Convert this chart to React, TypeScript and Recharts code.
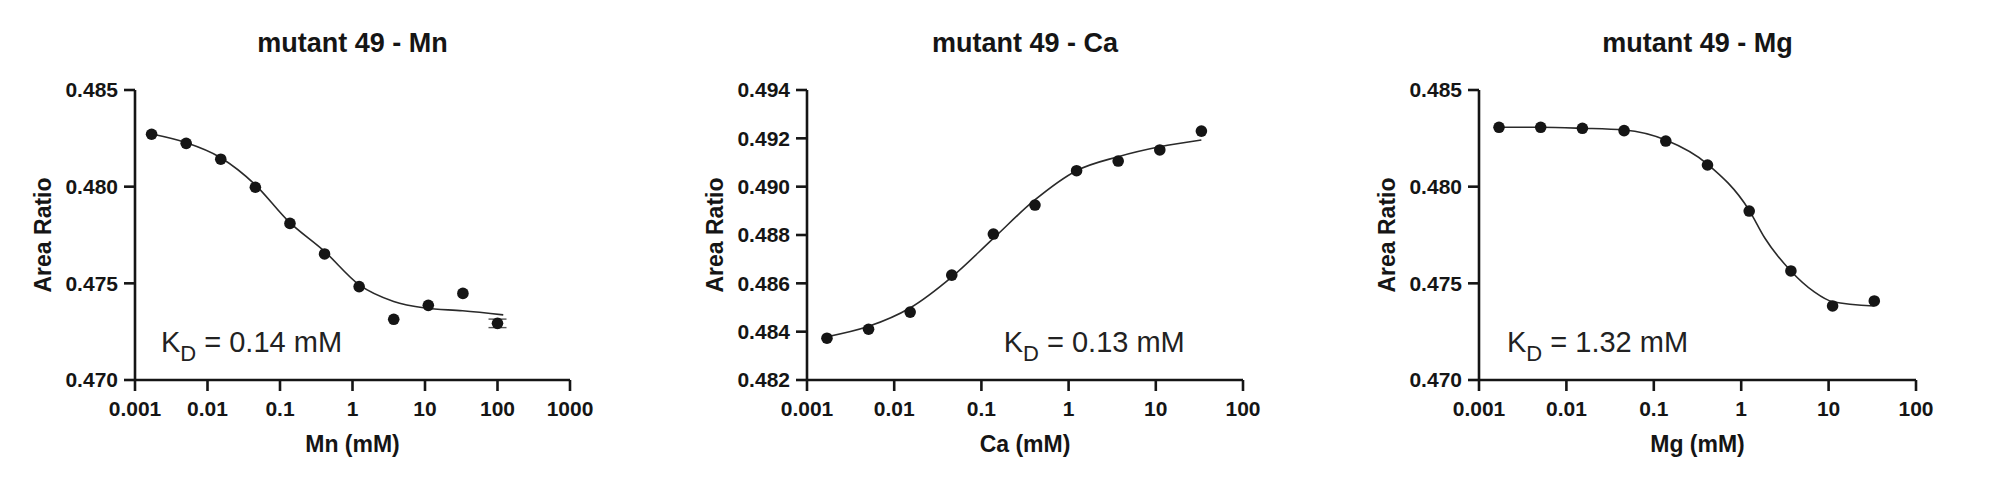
import React from "react";
import {
  ComposedChart,
  Line,
  Scatter,
  XAxis,
  YAxis,
  ErrorBar,
  ReferenceDot,
} from "recharts";

// 3-fold dilution series (mM)
const dilutionConc = [0.001694, 0.00508, 0.01524, 0.04572, 0.1372, 0.4115, 1.235, 3.704, 11.11, 33.33];

// Mn
const mnConc = [...dilutionConc, 100];
const mnRatio = [0.48271, 0.48224, 0.48142, 0.47997, 0.4781, 0.47652, 0.47483, 0.47314, 0.47386, 0.47448, 0.47293];
const mnError = [0, 0, 0, 0, 0, 0, 0, 0, 0, 0, 0.00022];
const mnFitConc = [0.0017, 0.005, 0.015, 0.045, 0.13, 0.41, 1.23, 3.7, 10, 33, 120];
const mnFitRatio = [0.48272, 0.48228, 0.48151, 0.48012, 0.47822, 0.47666, 0.47493, 0.47406, 0.47372, 0.47358, 0.47337];

// Ca
const caConc = dilutionConc;
const caRatio = [0.48373, 0.4841, 0.48481, 0.48634, 0.48804, 0.48924, 0.49066, 0.49106, 0.49152, 0.4923];
const caFitConc = [0.0017, 0.005, 0.015, 0.046, 0.137, 0.41, 1.23, 3.7, 11.1, 33.3];
const caFitRatio = [0.48379, 0.48421, 0.48497, 0.48627, 0.48786, 0.48945, 0.49066, 0.49124, 0.49165, 0.49193];

// Mg
const mgConc = dilutionConc;
const mgRatio = [0.48307, 0.48307, 0.48302, 0.4829, 0.48236, 0.48112, 0.47874, 0.47564, 0.47383, 0.47409];
const mgFitConc = [0.0017, 0.005, 0.015, 0.046, 0.137, 0.41, 1.23, 1.87, 3.7, 6.8, 11.1, 33.3];
const mgFitRatio = [0.48307, 0.48307, 0.48302, 0.48293, 0.48241, 0.48117, 0.47879, 0.47733, 0.47564, 0.47457, 0.47405, 0.47383];

// ticks
const xTicksWide = [0.001, 0.01, 0.1, 1, 10, 100, 1000];
const xTicks = [0.001, 0.01, 0.1, 1, 10, 100];
const yTicksLow = [0.47, 0.475, 0.48, 0.485];
const yTicksCa = [0.482, 0.484, 0.486, 0.488, 0.49, 0.492, 0.494];

const FONT = '"Liberation Sans", Arial, Helvetica, sans-serif';
const INK = "#151515";
const PLOT_TOP = 90;
const PLOT_BOTTOM = 380;
const HEIGHT = 491;
const Y_AXIS_W = 80;
const X_AXIS_H = 80;

const toPoints = (xs: number[], ys: number[], errs?: number[]) =>
  xs.map((x, i) => ({ x, y: ys[i], err: errs ? errs[i] : 0 }));

const Dot = (p: any) => <circle cx={p.cx} cy={p.cy} r={5.8} fill={INK} />;

interface PanelProps {
  title: string;
  xLabel: string;
  points: { x: number; y: number; err: number }[];
  fit: { x: number; y: number }[];
  xTicks: number[];
  yTicks: number[];
  left: number;
  width: number;
  plotLeft: number;
  plotRight: number;
  kd: string;
  kdAt: [number, number];
  hasError?: boolean;
}

const Panel = (props: PanelProps) => {
  const { title, xLabel, points, fit, xTicks, yTicks, left, width, plotLeft, plotRight, kd, kdAt } = props;
  const mLeft = plotLeft - left - Y_AXIS_W;
  const mRight = left + width - plotRight;
  const plotW = plotRight - plotLeft;
  const cx = plotLeft - left + plotW / 2;
  const tickStyle = { fontSize: 21, fontWeight: 700, fill: INK, fontFamily: FONT };

  return (
    <div style={{ position: "absolute", left, top: 0, width, height: HEIGHT }}>
      <div
        style={{
          position: "absolute",
          left: plotLeft - left,
          width: plotW,
          top: 30,
          textAlign: "center",
          fontFamily: FONT,
          fontWeight: 700,
          fontSize: 27,
          lineHeight: "27px",
          color: INK,
          whiteSpace: "nowrap",
        }}
      >
        {title}
      </div>
      <ComposedChart
        width={width}
        height={HEIGHT}
        margin={{ top: PLOT_TOP, bottom: HEIGHT - PLOT_BOTTOM - X_AXIS_H, left: mLeft, right: mRight }}
        style={{ fontFamily: FONT }}
      >
        <XAxis
          dataKey="x"
          type="number"
          scale="log"
          domain={[xTicks[0], xTicks[xTicks.length - 1]]}
          ticks={xTicks}
          interval={0}
          allowDataOverflow
          tickFormatter={(v: number) => String(v)}
          height={X_AXIS_H}
          tickSize={11}
          tickMargin={10}
          stroke={INK}
          strokeWidth={2.6}
          tick={tickStyle}
          label={() => (
            <text
              x={cx}
              y={452}
              textAnchor="middle"
              fontSize={23}
              fontWeight={700}
              fill={INK}
              fontFamily={FONT}
            >
              {xLabel}
            </text>
          )}
        />
        <YAxis
          dataKey="y"
          type="number"
          domain={[yTicks[0], yTicks[yTicks.length - 1]]}
          ticks={yTicks}
          interval={0}
          allowDataOverflow
          tickFormatter={(v: number) => v.toFixed(3)}
          width={Y_AXIS_W}
          tickSize={11}
          tickMargin={6}
          stroke={INK}
          strokeWidth={2.6}
          tick={tickStyle}
          label={() => {
            const lx = plotLeft - left - 84;
            const ly = (PLOT_TOP + PLOT_BOTTOM) / 2;
            return (
              <text
                x={lx}
                y={ly}
                transform={`rotate(-90, ${lx}, ${ly})`}
                textAnchor="middle"
                fontSize={23}
                fontWeight={700}
                fill={INK}
                fontFamily={FONT}
              >
                Area Ratio
              </text>
            );
          }}
        />
        <Line
          data={fit}
          dataKey="y"
          type="monotone"
          stroke="#2a2a2a"
          strokeWidth={1.6}
          dot={false}
          activeDot={false}
          isAnimationActive={false}
        />
        <Scatter data={points} dataKey="y" shape={Dot} isAnimationActive={false}>
          {props.hasError && (
            <ErrorBar dataKey="err" direction="y" width={9} stroke="#555" strokeWidth={1.4} />
          )}
        </Scatter>
        <ReferenceDot
          x={kdAt[0]}
          y={kdAt[1]}
          r={0}
          ifOverflow="visible"
          shape={(p: any) => (
            <text
              x={p.cx}
              y={p.cy}
              fontSize={29}
              fill="#222"
              fontFamily={FONT}
              style={{ whiteSpace: "pre" }}
            >
              <tspan>K</tspan>
              <tspan fontSize={22} dy={9}>D</tspan>
              <tspan dy={-9}>{` = ${kd} mM`}</tspan>
            </text>
          )}
        />
      </ComposedChart>
    </div>
  );
};

export default function App() {
  return (
    <div
      style={{
        position: "absolute",
        left: 0,
        top: 0,
        width: 1994,
        height: HEIGHT,
        background: "#fff",
        overflow: "hidden",
      }}
    >
      <Panel
        title="mutant 49 - Mn"
        xLabel="Mn (mM)"
        points={toPoints(mnConc, mnRatio, mnError)}
        fit={toPoints(mnFitConc, mnFitRatio)}
        xTicks={xTicksWide}
        yTicks={yTicksLow}
        left={0}
        width={660}
        plotLeft={135}
        plotRight={570}
        kd="0.14"
        kdAt={[0.00228, 0.47145]}
        hasError
      />
      <Panel
        title="mutant 49 - Ca"
        xLabel="Ca (mM)"
        points={toPoints(caConc, caRatio)}
        fit={toPoints(caFitConc, caFitRatio)}
        xTicks={xTicks}
        yTicks={yTicksCa}
        left={660}
        width={670}
        plotLeft={807}
        plotRight={1243}
        kd="0.13"
        kdAt={[0.18, 0.48316]}
      />
      <Panel
        title="mutant 49 - Mg"
        xLabel="Mg (mM)"
        points={toPoints(mgConc, mgRatio)}
        fit={toPoints(mgFitConc, mgFitRatio)}
        xTicks={xTicks}
        yTicks={yTicksLow}
        left={1330}
        width={664}
        plotLeft={1479}
        plotRight={1916}
        kd="1.32"
        kdAt={[0.00209, 0.47145]}
      />
    </div>
  );
}
